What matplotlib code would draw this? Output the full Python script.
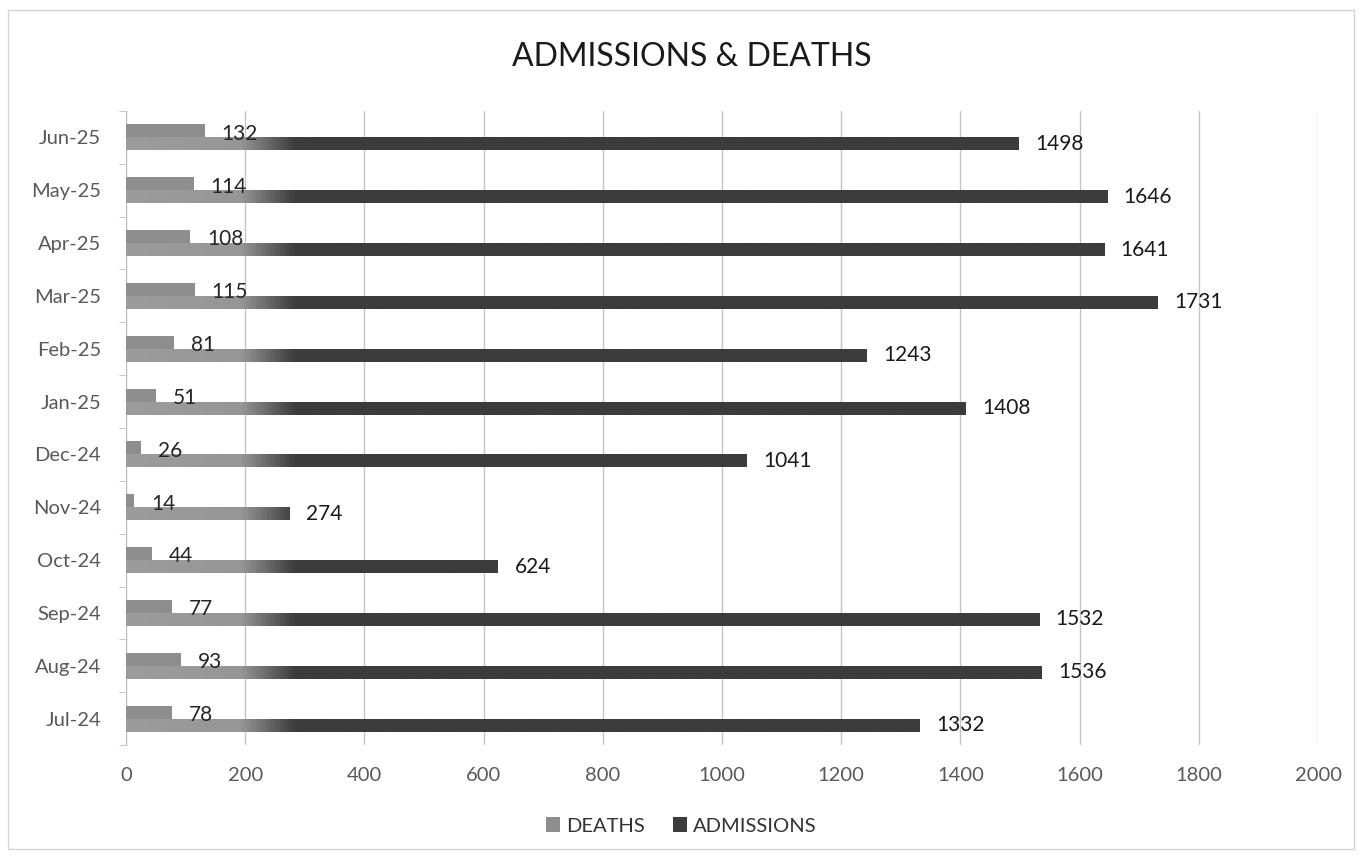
import numpy as np
import matplotlib
matplotlib.use('Agg')
from matplotlib import pyplot as plt
from matplotlib.colors import LinearSegmentedColormap
from matplotlib.patches import Rectangle

plt.rcParams['font.family'] = ['Lato', 'DejaVu Sans']

months = ['Jul-24', 'Aug-24', 'Sep-24', 'Oct-24', 'Nov-24', 'Dec-24',
          'Jan-25', 'Feb-25', 'Mar-25', 'Apr-25', 'May-25', 'Jun-25']
deaths = [78, 93, 77, 44, 14, 26, 51, 81, 115, 108, 114, 132]
admissions = [1332, 1536, 1532, 624, 274, 1041, 1408, 1243, 1731, 1641, 1646, 1498]
x_ticks = [0, 200, 400, 600, 800, 1000, 1200, 1400, 1600, 1800, 2000]

DEATH_COLOR = '#8e8e8e'
ADMIT_COLOR = '#3c3c3c'
BAR_H = 0.245
X_MAX = 2000


def fade_bars(ax, bars, cmap):
    # paint a horizontal light-to-dark ramp inside each bar
    grad = np.linspace(0, 1, 512).reshape(1, -1)
    for patch in bars.patches:
        y0 = patch.get_y()
        y1 = y0 + patch.get_height()
        im = ax.imshow(grad, extent=[0, X_MAX, y0, y1], aspect='auto', cmap=cmap,
                       interpolation='bilinear', zorder=3, origin='lower')
        im.set_clip_path(patch)


def main():
    fig = plt.figure(figsize=(13.62, 8.59), dpi=100)
    ax = fig.add_axes([0.0925, 0.1327, 0.8752, 0.7381])

    y = np.arange(len(months))
    bars_d = ax.barh(y + BAR_H / 2, deaths, height=BAR_H, color=DEATH_COLOR,
                     label='DEATHS', zorder=3)
    bars_a = ax.barh(y - BAR_H / 2, admissions, height=BAR_H, color=ADMIT_COLOR,
                     label='ADMISSIONS', zorder=3)

    fade = LinearSegmentedColormap.from_list(
        'fade', [(0, '#9c9c9c'), (0.095, '#969696'), (0.14, ADMIT_COLOR), (1, ADMIT_COLOR)])
    fade_bars(ax, bars_a, fade)

    for yi, v in zip(y, deaths):
        ax.annotate(str(v), (v, yi + BAR_H / 2), xytext=(12, -2), textcoords='offset points',
                    va='center', ha='left', fontsize=15, color='#262626', zorder=4)
    for yi, v in zip(y, admissions):
        ax.annotate(str(v), (v, yi - BAR_H / 2), xytext=(12, 0), textcoords='offset points',
                    va='center', ha='left', fontsize=15, color='#1a1a1a', zorder=4)

    ax.set_xlim(0, X_MAX)
    ax.set_ylim(-0.5, len(months) - 0.5)
    ax.set_xticks(x_ticks)
    ax.set_xticklabels([str(t) for t in x_ticks], fontsize=14.5, color='#595959')
    ax.set_yticks(y)
    ax.set_yticklabels(months, fontsize=14.5, color='#595959')
    ax.set_yticks(np.arange(-0.5, len(months), 1), minor=True)
    ax.tick_params(axis='x', length=0, pad=16)
    ax.tick_params(axis='y', which='major', length=0, pad=18)
    ax.tick_params(axis='y', which='minor', length=5, color='#bfbfbf', direction='out')

    ax.grid(axis='x', color='#c4c4cc', linewidth=1.0, zorder=0)
    ax.set_axisbelow(True)
    for side in ['top', 'right', 'bottom']:
        ax.spines[side].set_visible(False)
    ax.spines['left'].set_color('#bfbfbf')

    fig.text(0.508, 0.9336, 'ADMISSIONS & DEATHS', ha='center', va='center',
             fontsize=23, color='#1a1a1a')
    fig.legend(handles=[bars_d, bars_a], loc='center', bbox_to_anchor=(0.5, 0.0384),
               ncol=2, frameon=False, fontsize=14.5, handlelength=0.7, handleheight=0.7,
               handletextpad=0.3, columnspacing=1.4, labelcolor='#333333')

    fig.patches.append(Rectangle((0.006, 0.012), 0.988, 0.976, transform=fig.transFigure,
                                 fill=False, edgecolor='#d4d4d4', linewidth=1.0))

    fig.savefig('out.png', dpi=100)


if __name__ == '__main__':
    main()
